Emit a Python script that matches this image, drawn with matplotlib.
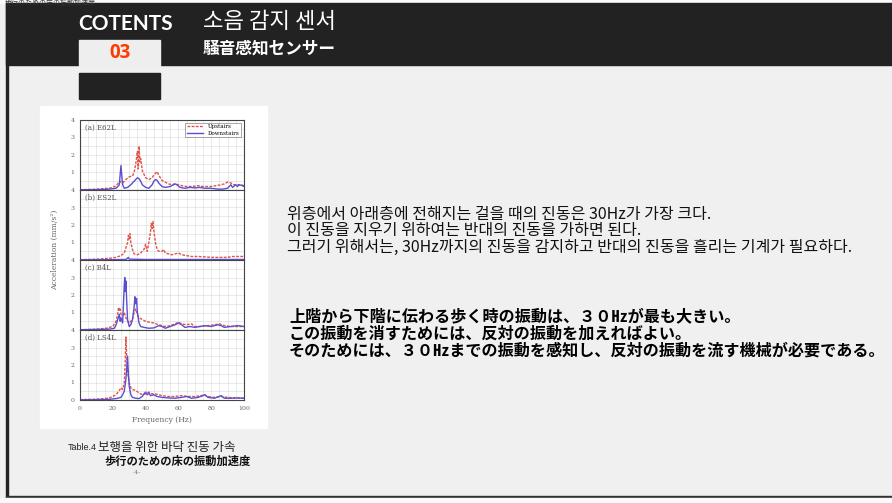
import numpy as np
import matplotlib
matplotlib.use("Agg")
import matplotlib.pyplot as plt
from matplotlib.patches import Rectangle

# Data
panel_labels = ["(a) E62L", "(b) ES2L", "(c) B4L", "(d) LS4L"]
series_names = ["Upstairs", "Downstairs"]

up_a = [(0, 0.02), (5, 0.03), (10, 0.05), (15, 0.08), (18, 0.1), (20, 0.15), (22, 0.25), (23, 0.35),
        (24, 0.5), (25, 0.45), (26, 0.4), (27, 0.5), (28, 0.6), (30, 0.75), (32, 0.8), (33, 1.0),
        (34, 1.5), (35, 2.2), (35.5, 1.2), (36, 2.5), (36.5, 1.6), (37, 1.8), (38, 1.1), (39, 0.9),
        (40, 0.7), (42, 0.6), (44, 0.7), (45, 0.85), (46, 0.95), (47, 1.05), (48, 0.85), (49, 0.7),
        (50, 0.55), (52, 0.45), (54, 0.35), (56, 0.3), (58, 0.35), (60, 0.3), (62, 0.25), (65, 0.2),
        (68, 0.2), (70, 0.22), (72, 0.25), (75, 0.2), (78, 0.2), (80, 0.2), (83, 0.25), (86, 0.3),
        (88, 0.35), (90, 0.45), (92, 0.4), (94, 0.3), (96, 0.3), (98, 0.3), (100, 0.25)]
down_a = [(0, 0.01), (10, 0.02), (18, 0.05), (22, 0.1), (24, 0.3), (24.5, 0.9), (25, 1.4), (25.5, 0.8),
          (26, 0.3), (27, 0.1), (29, 0.15), (31, 0.3), (33, 0.5), (34, 0.6), (35, 0.7), (36, 0.65),
          (37, 0.5), (38, 0.3), (40, 0.15), (42, 0.1), (44, 0.3), (45, 0.5), (46, 0.6), (47, 0.55),
          (48, 0.4), (50, 0.2), (52, 0.15), (55, 0.2), (57, 0.3), (58, 0.35), (59, 0.3), (61, 0.15),
          (64, 0.1), (67, 0.15), (70, 0.12), (73, 0.15), (76, 0.1), (80, 0.1), (84, 0.05), (87, 0.05),
          (90, 0.1), (92, 0.3), (93, 0.15), (95, 0.3), (96, 0.2), (97, 0.3), (99, 0.25), (100, 0.2)]

up_b = [(0, 0.02), (10, 0.05), (18, 0.1), (22, 0.15), (25, 0.25), (27, 0.4), (28, 0.7), (29, 1.0),
        (29.5, 1.4), (30, 1.2), (30.5, 1.5), (31, 1.0), (32, 0.6), (33, 0.35), (35, 0.3), (37, 0.4),
        (39, 0.6), (40, 0.9), (41, 0.5), (42, 1.0), (43, 1.6), (43.5, 2.1), (44, 1.8), (44.5, 2.2),
        (45, 1.7), (46, 1.0), (47, 0.6), (48, 0.5), (50, 0.5), (51, 0.6), (52, 0.4), (54, 0.35),
        (56, 0.3), (58, 0.35), (60, 0.4), (62, 0.3), (65, 0.25), (68, 0.2), (72, 0.2), (76, 0.18),
        (80, 0.15), (85, 0.15), (90, 0.15), (93, 0.2), (96, 0.2), (100, 0.2)]
down_b = [(0, 0.01), (20, 0.02), (28, 0.03), (29.5, 0.15), (30, 0.05), (40, 0.03), (60, 0.03),
          (80, 0.03), (100, 0.03)]

up_c = [(0, 0.02), (10, 0.05), (16, 0.1), (20, 0.2), (22, 0.5), (23, 0.9), (23.5, 1.3), (24, 1.1),
        (24.5, 1.2), (25, 0.9), (26, 0.8), (27, 1.0), (28, 0.7), (29, 0.5), (30, 0.4), (32, 0.6),
        (33, 1.0), (34, 1.2), (35, 0.9), (36, 0.7), (38, 0.6), (40, 0.5), (42, 0.45), (45, 0.4),
        (48, 0.3), (50, 0.25), (52, 0.2), (55, 0.25), (58, 0.35), (60, 0.45), (62, 0.35), (65, 0.3),
        (68, 0.35), (70, 0.2), (74, 0.2), (78, 0.25), (82, 0.3), (85, 0.35), (88, 0.25), (92, 0.2),
        (96, 0.2), (100, 0.2)]
down_c = [(0, 0.01), (10, 0.03), (18, 0.05), (21, 0.1), (22, 0.3), (23, 0.6), (24, 0.9), (24.5, 0.5),
          (25, 0.7), (26, 0.4), (26.5, 1.5), (27, 2.6), (27.3, 3.0), (27.6, 2.2), (28, 2.8), (28.5, 1.6),
          (29, 0.6), (30, 0.2), (31, 0.3), (32, 0.6), (33, 1.3), (33.5, 1.9), (34, 1.5), (34.5, 1.8),
          (35, 1.0), (36, 0.4), (37, 0.2), (39, 0.15), (42, 0.1), (45, 0.12), (48, 0.25), (50, 0.2),
          (52, 0.1), (55, 0.2), (58, 0.3), (60, 0.4), (62, 0.3), (64, 0.15), (67, 0.2), (70, 0.15),
          (73, 0.2), (76, 0.25), (80, 0.2), (84, 0.3), (86, 0.25), (88, 0.15), (92, 0.2), (96, 0.25),
          (100, 0.2)]

up_d = [(0, 0.02), (10, 0.05), (15, 0.08), (18, 0.12), (20, 0.2), (22, 0.3), (24, 0.55), (25, 0.7),
        (26, 0.6), (27, 1.0), (27.5, 2.0), (28, 3.6), (28.5, 2.4), (29, 1.6), (30, 1.0), (31, 0.7),
        (32, 0.6), (34, 0.55), (36, 0.4), (38, 0.3), (40, 0.35), (42, 0.45), (44, 0.35), (46, 0.35),
        (48, 0.3), (50, 0.25), (54, 0.2), (58, 0.2), (62, 0.25), (66, 0.2), (70, 0.2), (74, 0.25),
        (76, 0.3), (78, 0.2), (82, 0.15), (86, 0.2), (90, 0.15), (95, 0.12), (100, 0.1)]
down_d = [(0, 0.01), (10, 0.02), (18, 0.04), (22, 0.08), (25, 0.15), (26, 0.3), (27, 0.5), (28, 1.2),
          (28.5, 1.8), (29, 2.5), (29.5, 1.5), (30, 0.8), (31, 0.3), (32, 0.15), (34, 0.1), (36, 0.08),
          (38, 0.2), (39, 0.35), (40, 0.45), (41, 0.3), (42, 0.4), (43, 0.25), (45, 0.3), (47, 0.2),
          (50, 0.15), (54, 0.12), (58, 0.1), (62, 0.15), (65, 0.2), (68, 0.1), (72, 0.15), (75, 0.25),
          (76, 0.3), (78, 0.15), (82, 0.1), (86, 0.25), (88, 0.1), (92, 0.1), (96, 0.12), (100, 0.1)]

upstairs = [up_a, up_b, up_c, up_d]
downstairs = [down_a, down_b, down_c, down_d]

freq_ticks = [0, 20, 40, 60, 80, 100]

title_ko = "소음 감지 센서"
title_ja = "騒音感知センサー"
body_ko = ["위층에서 아래층에 전해지는 걸을 때의 진동은 30Hz가 가장 크다.",
           "이 진동을 지우기 위하여는 반대의 진동을 가하면 된다.",
           "그러기 위해서는, 30Hz까지의 진동을 감지하고 반대의 진동을 흘리는 기계가 필요하다."]
body_ja = ["上階から下階に伝わる歩く時の振動は、３０㎐が最も大きい。",
           "この振動を消すためには、反対の振動を加えればよい。",
           "そのためには、３０㎐までの振動を感知し、反対の振動を流す機械が必要である。"]
caption_ko = "보행을 위한 바닥 진동 가속"
caption_ja = "歩行のための床の振動加速度"

W, H = 892, 503
fig = plt.figure(figsize=(W / 100, H / 100), dpi=100)
fig.patch.set_facecolor("#f0f0f0")

# slide background, drawn in pixel coordinates
bg = fig.add_axes([0, 0, 1, 1])
bg.set_xlim(0, W)
bg.set_ylim(H, 0)
bg.axis("off")

bg.add_patch(Rectangle((0, 0), W, 3, color="#fafafa"))
bg.add_patch(Rectangle((6, 3), W - 6, 62, color="#222222"))
bg.add_patch(Rectangle((6, 3), 2, H - 6, color="#222222"))
bg.add_patch(Rectangle((6, 496), W - 6, 2, color="#333333"))
bg.add_patch(Rectangle((0, 498), W, 5, color="#fafafa"))
bg.add_patch(Rectangle((79, 40), 81, 26, color="#eeeeee"))
bg.add_patch(Rectangle((79, 73), 81, 26, color="#222222"))
bg.add_patch(Rectangle((40, 106), 227, 322, color="white"))

bg.text(5, 3, caption_ja, fontsize=5, family=["Noto Sans CJK JP"], color="#333333", va="center")
bg.text(126, 24, "COTENTS", fontsize=15, family="Lato", weight="bold", color="white",
        ha="center", va="center")
bg.text(120, 53, "03", fontsize=13.5, family="Open Sans", weight="bold", color="#ff3b00",
        ha="center", va="center")
bg.text(203, 21, title_ko, fontsize=16, family=["Noto Sans CJK KR"], color="white", va="center")
bg.text(203, 49, title_ja, fontsize=12, family=["Noto Sans CJK JP"], weight="bold",
        color="white", va="center")

for i, line in enumerate(body_ko):
    bg.text(287, 214 + i * 16.5, line, fontsize=11.5, family=["Noto Sans CJK KR"], color="#111111",
            va="center")
for i, line in enumerate(body_ja):
    bg.text(289, 316 + i * 17.5, line, fontsize=11.6, family=["Noto Sans CJK JP", "DejaVu Sans"],
            weight="bold", color="#000000", va="center")

bg.text(68, 447, "Table.4", fontsize=6.5, family="Liberation Sans", color="#222222", va="center")
bg.text(98, 447, caption_ko, fontsize=9, family=["Noto Sans CJK KR"], color="#222222", va="center")
bg.text(104, 461, caption_ja, fontsize=8.1, family=["Noto Sans CJK JP"], weight="bold",
        color="#111111", va="center")
bg.text(137, 472, "-4-", fontsize=4.5, family="DejaVu Serif", color="#777777", ha="center", va="center")

# four stacked spectrum panels
tops = [120, 190, 260, 330]
ph = 70
x0, pw = 80, 164
for k in range(4):
    ax = fig.add_axes([x0 / W, 1 - (tops[k] + ph) / H, pw / W, ph / H])
    ax.set_xlim(0, 100)
    ax.set_ylim(0, 4)
    ax.set_xticks(np.arange(0, 101, 5), minor=True)
    ax.set_yticks(np.arange(0, 4.01, 0.5), minor=True)
    ax.grid(which="both", color="#d8d8d8", linewidth=0.4)
    ax.set_axisbelow(True)
    up = np.array(upstairs[k])
    dn = np.array(downstairs[k])
    ax.plot(up[:, 0], up[:, 1], color="#e0524a", linestyle=(0, (2, 1)), linewidth=1.0,
            label=series_names[0])
    ax.plot(dn[:, 0], dn[:, 1], color="#5a4fd0", linewidth=1.0, label=series_names[1])
    ax.text(3, 3.55, panel_labels[k], fontsize=5, family="DejaVu Serif", color="#555555", va="center")
    if k < 3:
        ax.set_yticks([1, 2, 3, 4])
        ax.set_xticklabels([])
    else:
        ax.set_yticks([0, 1, 2, 3, 4])
    ax.set_xticks(freq_ticks)
    ax.tick_params(which="both", length=0, labelsize=4.5, labelcolor="#666666", pad=4)
    for lab in ax.get_yticklabels() + ax.get_xticklabels():
        lab.set_family("DejaVu Serif")
    for s in ax.spines.values():
        s.set_color("#444444")
        s.set_linewidth(0.8)
    if k == 0:
        leg = ax.legend(loc="upper right", frameon=True, fancybox=False,
                        handlelength=3, borderpad=0.3, labelspacing=0.2,
                        prop={"family": "DejaVu Serif", "size": 4})
        leg.get_frame().set_edgecolor("#666666")
        leg.get_frame().set_linewidth(0.5)

fig.text(55 / W, 1 - 250 / H, "Acceleration (mm/s²)", rotation=90, fontsize=5.5,
         family="DejaVu Serif", color="#666666", ha="center", va="center")
fig.text(162 / W, 1 - 420 / H, "Frequency (Hz)", fontsize=5.5, family="DejaVu Serif",
         color="#666666", ha="center", va="center")

fig.savefig("out.png", dpi=100, facecolor=fig.get_facecolor())
